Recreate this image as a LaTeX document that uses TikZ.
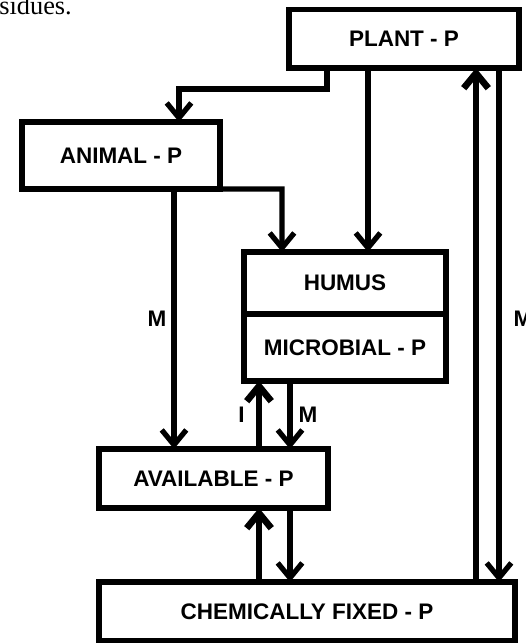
\documentclass[tikz,border=0pt]{standalone}
\usepackage{fontspec}
\setmainfont{Liberation Serif}
\setsansfont{Liberation Sans}
\usetikzlibrary{arrows.meta,positioning,calc}

\begin{document}
\begin{tikzpicture}[
    x=0.02cm, y=-0.02cm,
    every node/.style={font=\sffamily\bfseries\fontsize{12.8}{14}\selectfont},
    pool/.style={draw, line width=3.1pt, inner sep=0pt, outer sep=0pt, minimum height=1.18cm},
    flow/.style={line width=3pt, -{Straight Barb[length=8.5pt, width=14pt]}},
    upflow/.style={flow, line width=3.8pt},
    lab/.style={inner sep=0pt},
]
\useasboundingbox (0,0) rectangle (525,643);

% cropped text from the page above
\node[font=\fontsize{15}{17}\selectfont\rmfamily, anchor=base west, inner sep=0pt] (cut) at (-1,14.5) {sidues.};

% === POOLS ===
\node[pool, minimum width=4.6cm, minimum height=1.17cm] (plant) at (404,38.75) {PLANT - P};
\node[pool, minimum width=3.96cm, minimum height=1.34cm] (animal) at (121,155.5) {ANIMAL - P};
\node[pool, minimum width=4.04cm, minimum height=1.24cm] (humus) at (345,283) {HUMUS};
\node[pool, minimum width=4.04cm, minimum height=1.34cm, below=0pt of humus] (microbial) {MICROBIAL - P};
\node[pool, minimum width=4.58cm] (available) at (213.5,478.5) {AVAILABLE - P};
\node[pool, minimum width=8.32cm] (chem) at (307,611.5) {CHEMICALLY FIXED - P};

% columns and bends
\coordinate (pa1) at (327,89);
\coordinate (pa2) at (179,89);
\coordinate (ah) at (282,189);
\coordinate (ph) at (368,0);
\coordinate (av) at (174,0);
\coordinate (upa) at (259,0);
\coordinate (dna) at (290,0);
\coordinate (upb) at (476,0);
\coordinate (dnb) at (499,0);

% === FLOWS ===
\draw[flow] (plant.south -| pa1) -- (pa1) -- (pa2) -- (animal.north -| pa2);
\draw[flow] (animal.south east) -- (ah) -- (humus.north -| ah);
\draw[flow] (plant.south -| ph) -- (humus.north -| ph);
\draw[flow] (animal.south -| av) -- (available.north -| av);

% microbial <-> available
\draw[upflow] (available.north -| upa) -- (microbial.south -| upa);
\draw[flow] (microbial.south -| dna) -- (available.north -| dna);

% available <-> chemically fixed
\draw[upflow] (chem.north -| upa) -- (available.south -| upa);
\draw[flow] (available.south -| dna) -- (chem.north -| dna);

% chemically fixed <-> plant
\draw[upflow] (chem.north -| upb) -- (plant.south -| upb);
\draw[flow] (plant.south -| dnb) -- (chem.north -| dnb);

% Labels
\node[lab] (mleft) at (157,319) {M};
\node[lab] (iup) at (241.5,415) {I};
\node[lab] (mdown) at (308,415) {M};
\node[lab] (mright) at (523,319) {M};

\end{tikzpicture}
\end{document}
